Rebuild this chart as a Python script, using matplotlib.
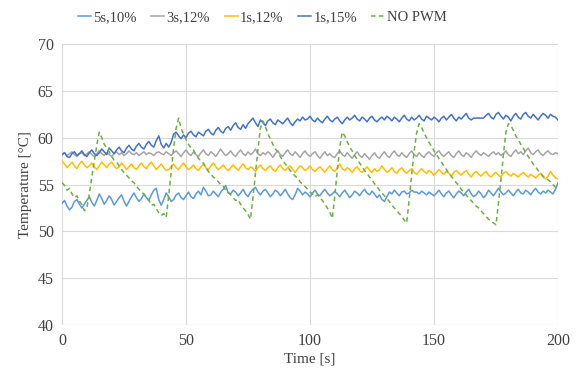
import matplotlib
matplotlib.use("Agg")
import matplotlib.pyplot as plt
import numpy as np

time_s = list(range(0, 201))

s5_10 = [53.0, 53.3, 52.7, 52.3, 52.6, 53.2, 53.4, 52.9, 52.5, 52.9,
         53.3, 53.7, 53.1, 52.7, 53.3, 54.0, 53.5, 52.9, 53.3, 53.8,
         53.4, 52.8, 53.2, 53.6, 53.9, 53.2, 52.7, 53.2, 53.7, 54.1,
         53.6, 53.2, 53.5, 54.0, 53.6, 53.3, 53.9, 54.4, 54.6, 53.4,
         52.8, 53.4, 54.1, 53.7, 53.2, 53.4, 53.9, 54.1, 53.6, 53.4,
         53.8, 54.2, 53.7, 53.5, 54.0, 54.3, 53.9, 54.7, 54.3, 53.8,
         53.9, 54.3, 54.0, 53.7, 54.2, 54.5, 54.9, 54.1, 54.0, 54.4,
         54.2, 53.8, 54.1, 54.5, 54.0, 53.7, 54.2, 54.5, 54.7, 54.2,
         53.9, 54.3, 54.5, 54.1, 53.7, 54.0, 54.4, 54.2, 53.8, 54.1,
         54.5, 54.0, 53.6, 53.4, 53.9, 54.6, 54.3, 53.9, 54.2, 54.0,
         53.7, 54.1, 54.4, 54.0, 53.8, 54.2, 54.5, 54.1, 53.8, 54.0,
         54.3, 54.0, 53.7, 54.1, 54.4, 54.0, 53.6, 53.9, 54.3, 54.1,
         53.8, 54.2, 54.5, 54.1, 53.9, 54.3, 54.0, 53.6, 53.9, 53.4,
         53.2, 53.7, 54.2, 54.0, 54.4, 54.1, 53.8, 54.2, 54.3, 54.0,
         54.1, 54.4, 54.2, 54.2, 54.0, 54.3, 54.1, 53.9, 54.2, 54.0,
         53.8, 54.1, 54.4, 54.0, 53.7, 54.1, 54.3, 53.9, 53.6, 54.0,
         54.3, 54.1, 53.8, 54.2, 54.5, 54.0, 53.7, 53.9, 54.3, 54.0,
         53.6, 53.9, 54.4, 54.1, 53.8, 54.2, 54.6, 54.2, 53.9, 54.1,
         54.4, 54.1, 53.8, 54.2, 54.5, 54.1, 54.0, 54.4, 54.2, 53.9,
         54.3, 54.6, 54.2, 54.0, 54.3, 54.1, 54.4, 54.2, 54.0, 54.5,
         55.2]

s3_12 = [58.2, 58.4, 58.1, 58.3, 58.5, 58.2, 58.0, 58.3, 58.4, 58.1,
         58.3, 58.5, 58.2, 58.0, 58.3, 58.6, 58.3, 58.1, 58.4, 58.2,
         58.0, 58.3, 58.5, 58.2, 58.4, 58.1, 58.3, 58.6, 58.3, 58.2,
         58.4, 58.1, 58.3, 58.5, 58.2, 58.4, 58.3, 58.1, 58.4, 58.5,
         58.3, 58.2, 58.5, 58.3, 58.1, 58.4, 58.6, 58.3, 58.0, 58.4,
         58.7, 58.3, 58.1, 58.5, 58.2, 58.0, 58.4, 58.7, 58.3, 58.1,
         58.5, 58.3, 58.0, 58.4, 58.8, 58.4, 58.1, 58.3, 58.6, 58.2,
         58.0, 58.4, 58.7, 58.3, 58.1, 58.5, 58.2, 58.4, 58.8, 58.3,
         58.1, 58.4, 58.2, 58.5, 58.3, 57.9, 58.3, 58.6, 58.2, 58.0,
         58.4, 58.7, 58.3, 58.1, 58.5, 58.2, 57.9, 58.3, 58.6, 58.2,
         58.0, 58.3, 58.5, 58.1, 57.8, 58.2, 58.5, 58.1, 58.3, 58.0,
         57.9, 58.3, 58.6, 58.2, 58.0, 58.4, 58.1, 57.8, 58.2, 58.5,
         58.1, 57.9, 58.3, 58.0, 57.7, 58.1, 58.4, 58.0, 57.8, 58.2,
         58.5, 58.1, 57.9, 58.3, 58.6, 58.2, 58.0, 58.4, 58.1, 57.9,
         58.3, 58.6, 58.2, 58.0, 58.4, 58.1, 57.9, 58.3, 58.5, 58.2,
         58.0, 58.4, 58.6, 58.2, 58.0, 58.3, 58.5, 58.1, 57.9, 58.3,
         58.6, 58.2, 58.0, 58.4, 58.2, 57.9, 58.3, 58.6, 58.3, 58.1,
         58.4, 58.2, 58.0, 58.3, 58.5, 58.2, 58.4, 58.1, 58.3, 58.6,
         58.2, 58.0, 58.4, 58.7, 58.3, 58.5, 58.2, 58.6, 58.9, 58.4,
         58.2, 58.5, 58.7, 58.3, 58.1, 58.4, 58.6, 58.3, 58.2, 58.4,
         58.3]

s1_12 = [57.5, 57.2, 56.8, 57.1, 57.4, 57.0, 56.7, 57.2, 57.5, 57.1,
         56.8, 57.0, 57.3, 56.9, 56.6, 57.0, 57.4, 57.1, 56.8, 57.2,
         57.4, 57.0, 56.7, 56.9, 57.3, 57.0, 56.6, 56.9, 57.2, 56.8,
         56.6, 57.0, 57.3, 56.9, 56.7, 57.1, 57.4, 57.0, 56.6, 56.9,
         57.2, 56.8, 56.5, 56.6, 56.9, 57.2, 56.8, 56.6, 57.0, 57.3,
         56.9, 56.6, 56.8, 57.1, 56.7, 56.5, 56.9, 57.2, 56.8, 56.6,
         57.0, 57.3, 56.9, 56.6, 56.8, 57.1, 56.7, 56.5, 56.8, 57.1,
         56.8, 56.5, 56.9, 57.2, 56.8, 56.6, 56.9, 56.7, 56.4, 56.8,
         57.1, 56.7, 56.5, 56.8, 57.0, 56.6, 56.4, 56.8, 57.1, 56.7,
         56.5, 56.8, 57.0, 56.6, 56.3, 56.7, 57.0, 56.8, 56.5, 56.7,
         57.0, 56.6, 56.4, 56.7, 56.9, 56.6, 56.3, 56.7, 57.0, 56.6,
         56.4, 56.8, 57.2, 56.7, 56.5, 56.8, 56.6, 56.3, 56.7, 56.9,
         56.5, 56.3, 56.6, 56.9, 56.5, 56.3, 56.7, 56.4, 56.6, 57.0,
         56.6, 56.3, 56.5, 56.8, 56.4, 56.2, 56.6, 56.8, 56.4, 56.2,
         56.5, 56.7, 56.3, 56.1, 56.4, 56.7, 56.4, 56.2, 56.5, 56.3,
         56.0, 56.3, 56.6, 56.3, 56.1, 56.4, 56.2, 55.9, 56.3, 56.5,
         56.2, 56.0, 56.3, 56.5, 56.1, 55.8, 56.2, 56.4, 56.1, 55.9,
         56.2, 56.4, 56.0, 55.8, 56.1, 56.3, 56.0, 55.8, 56.2, 56.4,
         56.1, 55.9, 56.2, 56.0, 55.8, 56.1, 56.3, 56.0, 55.8, 56.1,
         55.9, 55.7, 56.0, 56.2, 55.8, 55.6, 55.9, 56.4, 56.0, 55.7,
         55.6]

s1_15 = [58.2, 58.4, 58.0, 57.9, 58.3, 58.5, 58.1, 58.3, 58.6, 58.2,
         58.0, 58.4, 58.7, 58.3, 58.1, 58.4, 58.8, 58.5, 58.2, 58.9,
         58.6, 58.3, 58.7, 59.0, 58.6, 58.4, 58.9, 59.2, 58.8, 58.6,
         59.1, 59.4, 59.0, 58.8, 59.3, 59.6, 59.2, 59.0, 59.7, 60.2,
         59.3, 58.9, 59.4, 59.0, 59.5, 60.4, 60.6, 60.2, 59.9, 60.3,
         60.0, 60.5, 60.7, 60.3, 60.1, 60.6, 60.4, 60.2, 60.7, 60.9,
         60.5, 60.3, 60.8, 61.1, 60.7, 60.5, 61.0, 61.2, 60.8, 61.3,
         61.6, 61.1, 60.9, 61.4, 61.0, 61.5, 61.8, 62.1, 61.6, 61.2,
         61.9, 61.6, 61.3, 61.8, 62.0, 61.6, 61.4, 61.9, 61.7, 61.5,
         61.8, 62.1, 61.6, 61.3, 61.7, 62.0, 61.8, 62.2, 61.9, 62.0,
         62.3, 61.9, 61.7, 62.1, 61.8, 61.6, 62.0, 62.3, 61.9, 61.7,
         62.0, 62.2, 61.8, 61.5, 61.9, 62.2, 61.9, 62.1, 62.4, 62.0,
         61.8, 62.2, 62.0, 61.7, 62.1, 62.3, 61.9, 61.7, 62.0, 62.2,
         61.9, 62.3, 62.1, 61.8, 62.2, 62.0, 61.7, 62.1, 62.4, 62.0,
         61.8, 62.2, 61.9, 62.1, 62.4, 62.0, 61.8, 62.3, 62.1, 61.9,
         62.2, 62.0, 61.7, 62.1, 62.3, 61.9, 62.2, 62.5, 62.1, 61.8,
         62.2, 62.0, 62.3, 62.6, 62.1, 61.9, 62.1, 62.1, 62.1, 62.1,
         62.1, 62.4, 62.6, 62.2, 62.0, 62.5, 62.7, 62.3, 62.0, 62.4,
         62.2, 61.8, 62.3, 62.6, 62.2, 62.0, 62.5, 62.7, 62.3, 62.1,
         62.5, 62.2, 61.9, 62.3, 62.6, 62.4, 62.1, 62.5, 62.3, 62.2,
         61.9]

no_pwm = [55.2, 54.9, 54.4, 54.6, 54.0, 53.6, 53.8, 53.2, 52.9, 52.2,
          52.5, 54.0, 55.8, 57.5, 59.2, 60.6, 60.0, 59.3, 58.9, 58.5,
          58.0, 57.6, 57.4, 57.0, 56.6, 56.3, 56.0, 55.7, 55.4, 55.2,
          54.8, 54.5, 54.2, 54.0, 53.6, 53.3, 52.8, 52.9, 52.4, 52.0,
          51.7, 51.9, 51.5, 53.8, 56.3, 58.9, 61.0, 62.1, 61.0, 60.4,
          59.8, 59.3, 58.9, 58.7, 58.2, 57.8, 57.5, 57.3, 56.8, 56.4,
          56.1, 55.8, 55.6, 55.3, 55.0, 54.8, 54.4, 54.2, 53.9, 53.6,
          53.3, 53.4, 52.9, 52.5, 52.2, 51.8, 51.3, 53.6, 56.2, 58.8,
          61.0, 61.8, 61.2, 60.4, 59.9, 59.3, 58.8, 58.5, 58.0, 57.6,
          57.2, 56.9, 56.5, 56.2, 55.9, 55.7, 55.3, 55.0, 54.8, 54.5,
          54.2, 54.0, 53.7, 53.9, 53.6, 53.3, 52.9, 52.5, 52.0, 51.4,
          53.8, 56.5, 59.0, 60.6, 60.2, 59.6, 59.0, 58.6, 58.1, 57.7,
          57.3, 56.9, 56.5, 56.2, 55.8, 55.5, 55.1, 54.8, 54.4, 54.1,
          53.8, 53.5, 53.2, 52.8, 52.5, 52.2, 51.9, 51.6, 51.2, 50.9,
          53.4, 56.0, 58.6, 60.5, 61.5, 61.1, 60.5, 60.0, 59.5, 59.1,
          58.6, 58.2, 57.8, 57.4, 57.0, 56.6, 56.2, 55.9, 55.5, 55.2,
          54.9, 54.5, 54.2, 53.9, 53.5, 53.3, 53.0, 52.7, 52.5, 52.2,
          51.9, 51.6, 51.3, 51.1, 50.9, 50.7, 53.0, 55.5, 58.2, 60.6,
          61.5, 61.3, 60.8, 60.2, 59.8, 59.3, 58.9, 58.4, 58.0, 57.6,
          57.2, 56.9, 56.5, 56.2, 55.9, 55.7, 55.5, 55.3, 55.0, 54.7,
          54.4]

series_labels = ["5s,10%", "3s,12%", "1s,12%", "1s,15%", "NO PWM"]
x_ticks = [0, 50, 100, 150, 200]
y_ticks = [40, 45, 50, 55, 60, 65, 70]

plt.rcParams['font.family'] = ['Liberation Serif', 'DejaVu Serif']

fig = plt.figure(figsize=(5.8, 3.74), dpi=100)
ax = fig.add_axes([0.107, 0.131, 0.855, 0.751])

colors = ["#5B9BD5", "#A5A5A5", "#FFC000", "#4472C4", "#70AD47"]
data = [s5_10, s3_12, s1_12, s1_15, no_pwm]
for i, (vals, lab, c) in enumerate(zip(data, series_labels, colors)):
    if lab == "NO PWM":
        ax.plot(time_s, vals, color=c, lw=1.1, ls=(0, (3.0, 2.2)), label=lab, zorder=3 + i)
    else:
        ax.plot(time_s, vals, color=c, lw=1.1, label=lab, zorder=3 + i)

ax.set_xlim(0, 200)
ax.set_ylim(40, 70)
ax.set_xticks(x_ticks)
ax.set_yticks(y_ticks)
ax.tick_params(length=0, labelsize=11.5, colors="#404040", pad=6)
ax.grid(True, color="#D9D9D9", lw=0.8)
ax.set_axisbelow(True)
for sp in ax.spines.values():
    sp.set_visible(False)

ax.set_xlabel("Time [s]", fontsize=11, color="#404040", labelpad=2)
ax.set_ylabel("Temperature [°C]", fontsize=11, color="#404040", labelpad=4)

fig.legend(loc="center", bbox_to_anchor=(0.452, 0.953), ncol=5, frameon=False,
           fontsize=10.5, handlelength=0.9, handletextpad=0.15, columnspacing=1.0,
           labelcolor="#404040")

fig.savefig("out.png", dpi=100)
